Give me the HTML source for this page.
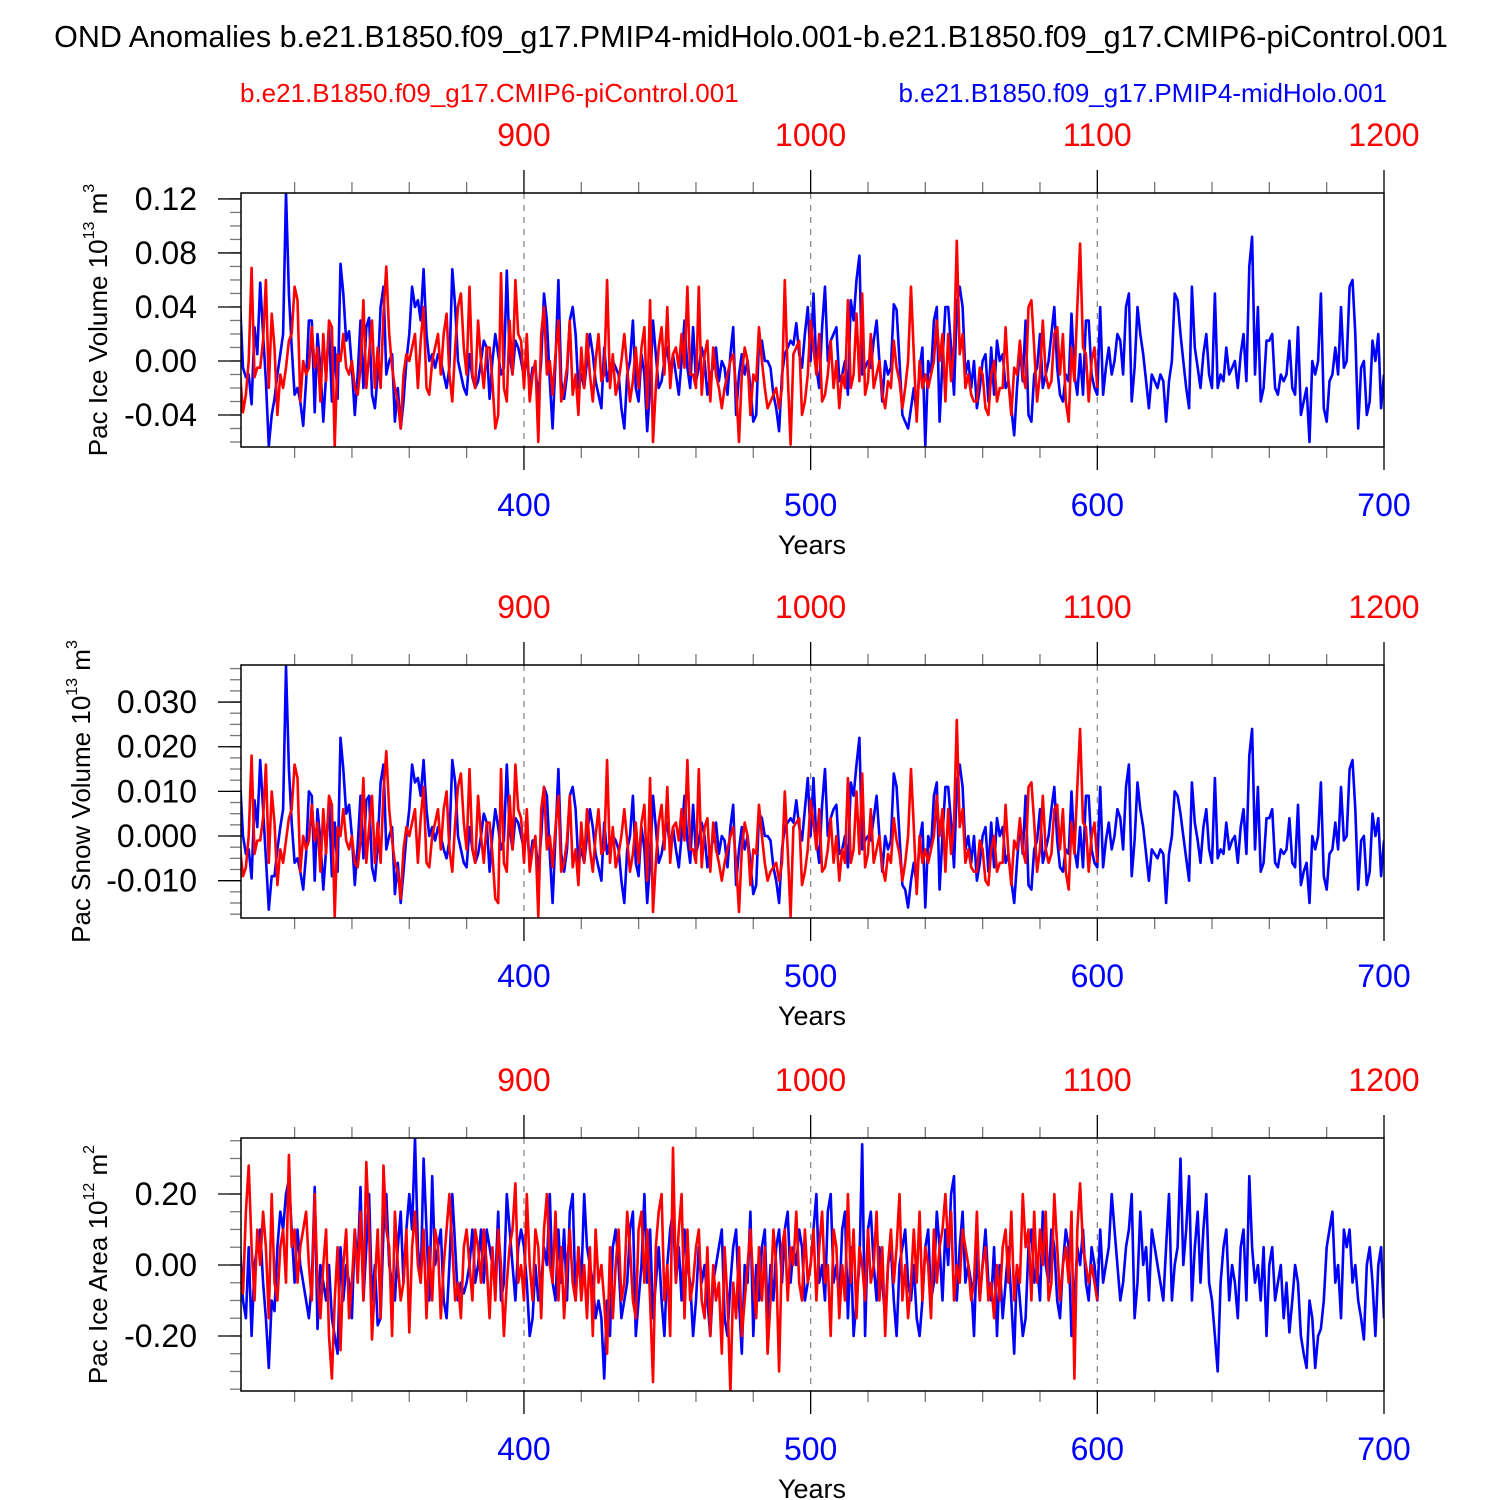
<!DOCTYPE html>
<html><head><meta charset="utf-8"><style>
html,body{margin:0;padding:0;background:#fff;}
svg{display:block;font-family:"Liberation Sans",Arial,sans-serif;}
</style></head><body>
<svg id="chart" width="1500" height="1500" viewBox="0 0 1500 1500" xmlns="http://www.w3.org/2000/svg">
<rect width="1500" height="1500" fill="#fff"/>
<text x="751" y="47" text-anchor="middle" font-size="30.5" fill="#000">OND Anomalies b.e21.B1850.f09_g17.PMIP4-midHolo.001-b.e21.B1850.f09_g17.CMIP6-piControl.001</text>
<text x="240" y="102" font-size="26" fill="#ff0000">b.e21.B1850.f09_g17.CMIP6-piControl.001</text>
<text x="1387" y="102" text-anchor="end" font-size="26" fill="#0000ff">b.e21.B1850.f09_g17.PMIP4-midHolo.001</text>
</svg>
<script>
// ---- data (blue: years 301-700, red: years 801-1100) ----
const blueYearStart = 301;
const redYearStart = 801;
const redYearOffset = 500;
const bottomTickLabels = [400, 500, 600, 700];
const topTickLabels = [900, 1000, 1100, 1200];

// Panel 1: Pac Ice Volume, values in thousandths (x 0.001)
const iceVolScale = 0.001;
const iceVolTicks = ["0.12","0.08","0.04","0.00","-0.04"];
const iceVolTickValues = [0.12,0.08,0.04,0.0,-0.04];
const iceVolBlue = [42,-5,-12,-10,-32,25,5,58,20,-15,-63,-40,-28,-10,5,20,125,50,10,-25,
-20,-30,-48,-15,30,30,-38,20,-5,-45,-10,25,-30,10,-28,72,50,15,22,-5,
-40,-10,30,-20,25,32,-25,-35,-10,40,55,-10,0,5,-45,-20,-50,-30,0,20,
55,40,45,30,68,20,0,5,-5,5,0,-10,-20,-5,68,40,0,-10,-20,-25,
5,-12,-20,-15,0,15,10,-28,0,20,5,-10,-5,67,5,-10,15,10,0,-12,
5,-20,-5,-5,-28,0,50,30,-15,-50,0,60,-15,-28,-10,30,40,20,-20,-10,
-20,0,20,5,-15,-25,-35,10,-15,-5,0,-5,-10,-35,-50,-10,0,30,-20,-30,
5,-10,-52,-20,30,5,-20,-15,0,10,-10,5,-10,-25,0,30,-5,-20,25,-15,
-5,10,0,-25,-10,-5,10,-15,0,-5,-25,5,25,-40,-10,5,-10,0,-20,-45,
-40,15,15,0,0,-5,-25,-35,-52,-10,5,10,15,12,28,5,-5,20,40,0,
50,-5,-20,25,55,0,15,20,25,-15,-10,0,-25,45,30,60,78,-10,-5,0,
-5,15,30,0,-30,0,-10,-5,42,38,0,-40,-45,-50,-35,-20,-40,-5,10,-63,
0,-10,30,40,-45,0,40,40,10,-25,40,55,40,-10,0,-20,0,-35,-20,0,
5,-30,10,-25,15,0,5,-20,-15,-35,-55,-20,10,-15,30,-40,-45,-10,-5,20,
-20,-10,0,20,40,-5,-25,-30,-10,-15,35,-10,-25,5,-25,30,30,-10,-20,-25,
40,-25,-5,10,-10,0,20,15,-10,40,50,-30,-5,40,20,5,-15,-35,-10,-15,
-20,-10,-15,-45,-15,0,50,45,20,0,-20,-35,55,10,-5,-20,5,20,-10,-20,
50,-20,-10,-15,10,-10,-5,0,-20,5,20,-15,70,92,-10,40,-30,-20,15,15,
20,-20,-25,-10,-15,-10,15,-20,-25,25,-40,-30,-20,-60,0,-10,0,50,-35,-45,
-15,-10,10,-10,40,-5,0,55,60,20,-50,-5,0,-40,-30,15,0,20,-35,-10];
const iceVolRed = [-10,-38,-25,0,69,-12,-5,-5,15,60,-20,35,10,-40,-10,-20,-5,15,20,55,
45,-30,0,-10,-5,25,-5,10,-30,20,-15,30,25,-63,5,0,20,-5,-10,0,
-20,-25,-5,45,-20,5,30,-20,10,-20,35,70,20,-5,-20,-30,-50,-10,5,0,
10,20,-20,15,40,-20,-25,0,10,20,-10,20,35,-10,-30,10,40,50,10,-10,
55,-10,-20,30,0,-20,10,10,-15,-50,-40,65,-20,-30,30,-10,60,20,15,-20,
20,-30,-10,0,-60,20,40,-10,0,-25,5,30,-30,-20,-5,30,-25,-10,-40,10,
-20,20,-10,-30,0,20,-15,-10,60,-20,5,-25,-15,0,20,-5,-30,-15,10,-20,
10,25,-35,45,-60,-20,10,25,-10,40,-20,5,10,-5,20,-5,55,-10,-10,-20,
55,-25,5,15,-30,10,-10,-20,-35,-20,-10,0,5,-20,-60,-10,10,0,-40,-10,
-15,25,0,-20,-35,-30,-25,-20,-35,-20,60,-10,-62,5,10,15,-40,-30,-10,30,
10,-10,20,-30,-25,-10,15,-20,0,-35,-10,-20,45,-20,-10,35,-15,50,-25,-15,
20,-20,-10,0,-25,-35,-15,-20,15,-5,-15,-35,-20,0,55,5,-45,0,-20,-10,
-20,-10,0,30,0,20,-30,20,-15,10,89,5,20,-20,-10,-25,-30,-30,-5,-10,
-35,-40,-10,0,-30,-20,-20,25,-15,-40,-5,-10,15,-10,-20,40,45,10,-30,-10,
30,-10,-20,-15,20,25,-10,20,-30,-45,10,-15,40,87,10,5,-30,0,10,-20];

// Panel 2: Pac Snow Volume, values in ten-thousandths (x 0.0001)
const snowVolScale = 0.0001;
const snowVolTicks = ["0.030","0.020","0.010","0.000","-0.010"];
const snowVolTickValues = [0.03,0.02,0.01,0.0,-0.01];
const snowVolBlue = [120,0,-40,-30,-95,80,20,170,60,-50,-165,-90,-90,-30,20,60,380,150,30,-60,
-50,-80,-120,-40,100,90,-100,60,-10,-120,-30,80,-90,30,-80,220,150,50,70,0,
-110,-20,90,-50,80,90,-70,-100,-20,120,160,-30,0,20,-130,-60,-150,-80,0,60,
160,120,130,90,170,60,0,20,-10,20,0,-30,-50,-10,170,120,0,-30,-60,-70,
20,-30,-60,-40,0,50,30,-80,0,60,20,-30,-10,160,20,-30,40,30,0,-30,
20,-60,-10,-10,-80,0,110,90,-40,-150,0,150,-40,-80,-30,90,110,60,-60,-30,
-60,0,60,20,-40,-70,-100,30,-40,-10,0,-10,-30,-100,-150,-30,0,90,-60,-90,
20,-30,-150,-60,90,20,-60,-40,0,30,-30,20,-30,-70,0,90,-10,-60,70,-40,
-10,30,0,-70,-30,-10,30,-40,0,-10,-70,20,70,-110,-30,20,-30,0,-60,-130,
-110,50,40,0,0,-10,-70,-100,-150,-30,20,30,40,30,80,20,-10,60,130,0,
130,-10,-60,70,150,0,40,60,70,-40,-30,0,-70,120,90,160,220,-30,-10,0,
-10,40,90,0,-80,0,-30,-10,140,110,0,-110,-120,-160,-100,-60,-110,-10,30,-160,
0,-30,90,120,-120,0,110,110,30,-70,110,160,110,-30,0,-60,0,-100,-60,0,
20,-80,30,-70,40,0,20,-60,-40,-100,-150,-60,30,-40,90,-110,-120,-30,-10,60,
-60,-30,0,60,110,-10,-70,-80,-30,-40,100,-30,-70,20,-70,90,90,-30,-60,-70,
110,-70,-10,30,-30,0,60,40,-30,110,160,-90,-10,120,60,20,-40,-100,-30,-40,
-50,-30,-40,-150,-40,0,100,90,50,0,-50,-100,120,30,-10,-60,20,60,-30,-60,
130,-50,-30,-40,30,-30,-10,0,-60,20,60,-40,180,240,-30,110,-80,-60,40,40,
60,-60,-70,-30,-40,-30,40,-60,-70,70,-110,-80,-60,-150,0,-30,0,120,-90,-120,
-40,-30,30,-30,110,-10,0,150,170,60,-120,-10,0,-110,-80,50,0,40,-90,-10];
const snowVolRed = [-30,-90,-70,0,180,-40,-10,-10,40,160,-60,100,30,-110,-30,-60,-10,40,60,160,
130,-80,0,-30,-10,70,-10,30,-80,60,-40,90,70,-180,20,0,60,-10,-30,0,
-60,-70,-10,130,-60,20,90,-60,30,-60,100,190,60,-10,-60,-80,-140,-30,20,0,
30,60,-60,40,110,-60,-70,0,30,60,-30,60,100,-30,-80,30,110,140,30,-30,
150,-30,-60,90,0,-60,30,30,-40,-140,-150,150,-60,-80,90,-30,160,60,40,-60,
60,-80,-30,0,-180,60,110,-30,0,-70,20,90,-80,-60,-10,90,-70,-30,-110,30,
-60,60,-30,-80,0,60,-40,-30,170,-60,20,-70,-40,0,60,-10,-80,-40,30,-60,
30,70,-100,130,-170,-60,30,70,-30,110,-60,20,30,-10,60,-10,170,-30,-30,-60,
150,-70,20,40,-80,30,-30,-60,-100,-60,-30,0,20,-60,-170,-30,30,0,-110,-30,
-40,70,0,-60,-100,-80,-70,-60,-100,-60,100,-30,-180,20,30,40,-110,-80,-30,80,
30,-30,60,-80,-70,-30,40,-60,0,-100,-30,-60,130,-60,-30,100,-40,140,-70,-40,
60,-60,-30,0,-70,-100,-40,-60,40,-10,-40,-100,-60,0,150,20,-130,0,-60,-30,
-60,-30,0,90,0,60,-80,60,-40,30,260,20,60,-60,-30,-70,-80,-80,-10,-30,
-100,-110,-30,0,-80,-60,-60,70,-40,-110,-10,-30,40,-30,-60,110,120,30,-80,-30,
90,-30,-60,-40,60,70,-30,60,-80,-120,30,-40,110,240,30,20,-80,0,30,-60];

// Panel 3: Pac Ice Area, values in hundredths (x 0.01)
const iceAreaScale = 0.01;
const iceAreaTicks = ["0.20","0.00","-0.20"];
const iceAreaTickValues = [0.2,0.0,-0.2];
const iceAreaBlue = [5,-10,-15,5,-20,0,5,10,-5,-15,-29,-10,-13,5,15,10,20,24,10,-5,
10,0,-5,-10,-15,-5,22,-18,0,-5,-10,0,-15,-20,-25,5,-10,0,-5,-15,
10,0,22,-10,5,20,-10,0,-17,-15,10,20,0,-5,-10,5,15,-5,10,20,
10,36,5,-5,30,10,-10,25,0,5,10,-10,-15,0,20,5,-10,-5,-8,-5,
0,10,-5,0,10,-5,10,5,0,-5,15,-10,-5,20,10,0,-10,5,10,5,
-5,-20,-15,0,-10,-5,5,0,20,-5,-10,10,-5,10,-10,15,20,-10,5,-5,
20,5,0,-5,-15,-10,-15,-32,-10,-20,5,10,0,-15,-10,-5,10,15,-20,-10,
0,20,-5,10,-15,-5,5,-10,-20,0,10,15,-5,5,-10,10,0,-5,-20,-10,
5,-5,0,-10,-20,-5,0,5,10,-15,-20,-5,5,10,-10,-25,0,-5,15,-20,
0,-10,5,10,-15,0,-10,5,10,-5,10,15,-5,5,0,10,5,-10,-5,0,
10,20,-5,0,-10,15,20,-5,0,-10,10,15,-15,5,-20,-10,0,34,-20,10,
15,0,-10,5,-5,-15,0,5,-10,-20,0,5,10,-5,-10,0,-15,-20,-10,5,
10,-10,-5,15,5,-10,10,0,20,25,-10,5,15,-5,0,-5,-20,5,-10,0,
10,-5,-10,5,-20,0,-15,-5,5,-10,-25,0,-10,-20,-15,5,10,-5,0,-10,
15,0,-5,10,5,-10,-15,0,10,5,-20,-10,5,0,10,-5,-10,5,0,-10,
10,-5,0,5,20,10,0,-10,-5,5,10,20,-15,-5,15,0,5,-10,10,5,
0,-5,-10,5,20,-10,0,5,30,0,10,25,-10,5,15,-5,10,20,-5,-10,
-20,-30,-5,5,10,-10,0,-5,-15,5,10,-10,25,5,-5,0,-10,5,-20,0,
5,-10,-5,0,-15,-5,-19,-10,0,-5,-20,-25,-29,-10,-15,-29,-20,-18,-10,5,
10,15,-5,0,-15,10,5,10,-5,0,-10,-15,-21,0,5,-5,-20,0,5,-15];
const iceAreaRed = [0,-8,15,28,5,-10,10,0,15,5,-15,20,-5,-10,5,10,-5,31,5,10,
-5,5,10,15,0,-10,20,-5,-15,0,10,-20,-32,-10,5,-24,0,10,-15,-5,
10,-5,15,-10,29,10,-21,-5,10,-15,28,10,5,-20,15,0,-10,-5,10,-19,
5,15,0,-5,10,-15,5,-10,10,5,-15,0,10,20,5,-10,-5,-15,5,10,
0,-10,10,5,-5,10,0,-15,5,-10,10,0,-20,-5,5,10,23,-5,0,-10,
20,0,-10,10,5,-15,10,20,0,-5,15,-10,5,-15,0,10,-5,-10,5,-10,
0,-15,5,-20,10,-5,0,-10,-25,5,-15,0,10,-10,-5,15,5,-10,-15,10,
15,-5,10,-10,-33,5,15,20,-10,0,-20,33,-5,10,20,-15,10,-10,-5,5,
10,-10,-15,5,-20,0,-10,-5,-25,5,-10,-36,-5,-15,5,-20,-10,0,10,-5,
-15,5,-10,5,-25,-10,10,0,-30,5,10,-10,5,0,15,-5,-10,10,-5,0,
10,-10,5,15,-5,0,-20,10,5,-15,0,-10,20,-5,10,-15,5,0,-10,10,
-5,0,15,-10,5,-20,0,10,-5,5,20,-10,0,-15,-5,10,-5,15,-10,5,
0,-15,10,-5,5,10,20,5,15,-10,0,-5,10,5,0,-10,-5,15,-10,0,
5,-10,-5,-15,0,-10,5,10,-5,15,-10,0,-5,20,5,10,-10,15,-5,10,
0,15,-10,-5,20,5,-10,0,5,-5,15,-32,10,23,5,0,-5,0,-5,-10];

// ---- drawing ----
const NS = "http://www.w3.org/2000/svg";
const svg = document.getElementById("chart");
const X0 = 241, X1 = 1384, YEAR0 = 301.3, YEAR1 = 700;
function xScale(year){ return X0 + (year - YEAR0) * (X1 - X0) / (YEAR1 - YEAR0); }
function mk(tag, attrs, parent){
  const el = document.createElementNS(NS, tag);
  for (const k in attrs) el.setAttribute(k, attrs[k]);
  (parent || svg).appendChild(el);
  return el;
}
function drawPanel(p){
  const g = mk("g", {});
  
  
  const yScale = v => p.top + (p.vmax - v) * (p.bottom - p.top) / (p.vmax - p.vmin);
  [400,500,600].forEach(yr => {
    const l = mk("line", {x1:xScale(yr), x2:xScale(yr), y1:p.top, y2:p.bottom, stroke:"#888", "stroke-width":1.3, "stroke-dasharray":"6,6"}, g);
    
    
  });
  for (let yr = 320; yr <= 700; yr += 20){
    const major = (yr % 100 === 0);
    const len = major ? 23 : 11;
    const col = major ? "#000" : "#777";
    mk("line", {x1:xScale(yr), x2:xScale(yr), y1:p.top, y2:p.top - len, stroke:col, "stroke-width":1.3}, g);
    mk("line", {x1:xScale(yr), x2:xScale(yr), y1:p.bottom, y2:p.bottom + len, stroke:col, "stroke-width":1.3}, g);
  }
  for (let v = Math.ceil(p.vmin / p.minor) * p.minor; v <= p.vmax + 1e-9; v += p.minor){
    const y = yScale(v);
    mk("line", {x1:X0, x2:X0 - 11, y1:y, y2:y, stroke:"#777", "stroke-width":1.3}, g);
  }
  p.tickValues.forEach((v, i) => {
    const y = yScale(v);
    mk("line", {x1:X0, x2:X0 - 23, y1:y, y2:y, stroke:"#000", "stroke-width":1.3}, g);
    const t = mk("text", {x:197, y:y + 11, "text-anchor":"end", "font-size":32, fill:"#000"}, g);
    t.textContent = p.tickLabels[i];
    
    
  });
  const cid = "clip-" + p.name;
  const cp = mk("clipPath", {id:cid}, g);
  mk("rect", {x:X0, y:p.top, width:X1 - X0, height:p.bottom - p.top}, cp);
  const sg = mk("g", {"clip-path":"url(#" + cid + ")"}, g);
  
  
  const drawIn = (vals, scale, start, offset, color, nm) => {
    const pts = vals.map((v, i) => xScale(start + i - offset).toFixed(1) + "," + yScale(v * scale).toFixed(1)).join(" ");
    const pl = mk("polyline", {points:pts, fill:"none", stroke:color, "stroke-width":2.6, "stroke-linejoin":"round"}, sg);
    
    
  };
  drawIn(p.blue, p.scale, blueYearStart, 0, "#0000ff", "midholo-line");
  drawIn(p.red, p.scale, redYearStart, redYearOffset, "#ff0000", "picontrol-line");
  const fr = mk("rect", {x:X0, y:p.top, width:X1 - X0, height:p.bottom - p.top, fill:"none", stroke:"#000", "stroke-width":1.5}, g);
  
  
  bottomTickLabels.forEach(yr => {
    const t = mk("text", {x:xScale(yr), y:p.bottom + 69, "text-anchor":"middle", "font-size":32, fill:"#0000ff"}, g);
    t.textContent = yr;
    
    
  });
  topTickLabels.forEach(yr => {
    const t = mk("text", {x:xScale(yr - redYearOffset), y:p.top - 47, "text-anchor":"middle", "font-size":32, fill:"#ff0000"}, g);
    t.textContent = yr;
    
    
  });
  const xt = mk("text", {x:812, y:p.bottom + 107, "text-anchor":"middle", "font-size":27, fill:"#000"}, g);
  xt.textContent = "Years";
  
  
  const cy = (p.top + p.bottom) / 2;
  const yt = mk("text", {x:p.titleX, y:cy, "text-anchor":"middle", "font-size":26, fill:"#000", transform:"rotate(-90 " + p.titleX + " " + cy + ")"}, g);
  yt.innerHTML = p.title + ' 10<tspan dy="-13" font-size="16">' + p.exp10 + '</tspan><tspan dy="13"> m</tspan><tspan dy="-13" font-size="16">' + p.expU + '</tspan>';
  
  
}
drawPanel({name:"ice-volume-panel", top:193, bottom:447, vmax:0.1244, vmin:-0.0637, minor:0.01,
  tickValues:iceVolTickValues, tickLabels:iceVolTicks, blue:iceVolBlue, red:iceVolRed, scale:iceVolScale,
  title:"Pac Ice Volume", exp10:"13", expU:"3", titleX:107});
drawPanel({name:"snow-volume-panel", top:665, bottom:918, vmax:0.0383, vmin:-0.01836, minor:0.0025,
  tickValues:snowVolTickValues, tickLabels:snowVolTicks, blue:snowVolBlue, red:snowVolRed, scale:snowVolScale,
  title:"Pac Snow Volume", exp10:"13", expU:"3", titleX:90});
drawPanel({name:"ice-area-panel", top:1138, bottom:1391, vmax:0.3577, vmin:-0.355, minor:0.05,
  tickValues:iceAreaTickValues, tickLabels:iceAreaTicks, blue:iceAreaBlue, red:iceAreaRed, scale:iceAreaScale,
  title:"Pac Ice Area", exp10:"12", expU:"2", titleX:107});
</script>
</body></html>
